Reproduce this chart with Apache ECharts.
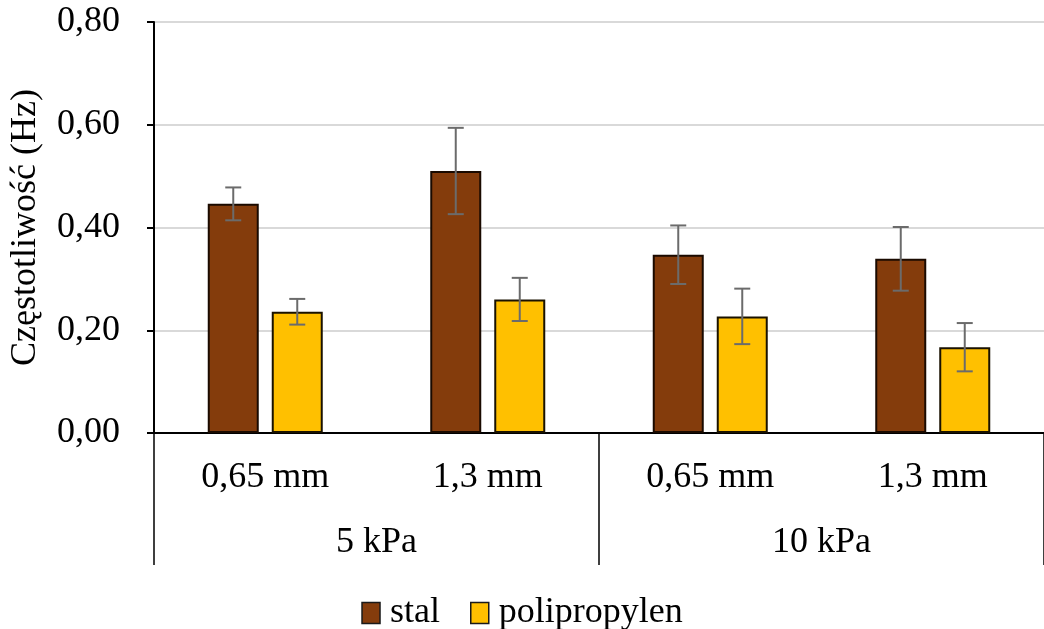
<!DOCTYPE html>
<html>
<head>
<meta charset="utf-8">
<script src="https://cdn.jsdelivr.net/npm/echarts@6/dist/echarts.min.js"></script>
<style>
  html, body { margin: 0; padding: 0; background: #fff; }
  #chart { width: 1044px; height: 629px; }
</style>
</head>
<body>
<div id="chart"></div>
<script>
// Frequency of oscillation: steel vs polypropylene, by orifice size and pressure
const sizeLabels = ['0,65 mm', '1,3 mm', '0,65 mm', '1,3 mm'];
const pressureLabels = ['5 kPa', '10 kPa'];
const seriesNames = ['stal', 'polipropylen'];
const stalValues = [0.446, 0.510, 0.347, 0.339];
const stalErrors = [0.032, 0.084, 0.057, 0.062];
const polyValues = [0.236, 0.260, 0.227, 0.167];
const polyErrors = [0.025, 0.042, 0.054, 0.047];
const yTicks = [0, 0.2, 0.4, 0.6, 0.8];

const FONT = '"Liberation Serif", "Times New Roman", serif';
const FS = 36;
const BAR_W = 51;
const BAR_GAP = 13;
const COLORS = ['#843C0C', '#FFC000'];

function errorSeries(values, errors, side) {
  return {
    type: 'custom',
    xAxisIndex: 0,
    yAxisIndex: 0,
    z: 5,
    silent: true,
    data: values.map((v, i) => [i, v - errors[i], v + errors[i]]),
    renderItem: function (params, api) {
      const shift = side * (BAR_W + BAR_GAP) / 2;
      const lo = api.coord([api.value(0), api.value(1)]);
      const hi = api.coord([api.value(0), api.value(2)]);
      const x = lo[0] + shift;
      const cap = 8;
      const style = { stroke: '#6b6b6b', lineWidth: 2 };
      return {
        type: 'group',
        children: [
          { type: 'line', shape: { x1: x, y1: lo[1], x2: x, y2: hi[1] }, style: style },
          { type: 'line', shape: { x1: x - cap, y1: hi[1], x2: x + cap, y2: hi[1] }, style: style },
          { type: 'line', shape: { x1: x - cap, y1: lo[1], x2: x + cap, y2: lo[1] }, style: style }
        ]
      };
    }
  };
}

const chart = echarts.init(document.getElementById('chart'));
chart.setOption({
  animation: false,
  backgroundColor: '#ffffff',
  textStyle: { fontFamily: FONT },
  grid: { left: 153, top: 22, width: 896, height: 411 },
  legend: {
    data: seriesNames,
    top: 590,
    left: 'center',
    itemWidth: 18,
    itemHeight: 21,
    itemGap: 30,
    icon: 'rect',
    itemStyle: { borderColor: '#1a1a1a', borderWidth: 1.5 },
    textStyle: { fontFamily: FONT, fontSize: FS, color: '#000', padding: [0, 0, 0, 5] }
  },
  xAxis: [
    {
      type: 'category',
      data: sizeLabels,
      position: 'bottom',
      axisLine: { show: true, lineStyle: { color: '#000', width: 2 } },
      axisTick: { show: false },
      axisLabel: { fontFamily: FONT, fontSize: FS, color: '#000', margin: 27 },
      splitLine: { show: false }
    },
    {
      type: 'category',
      data: pressureLabels,
      position: 'bottom',
      axisLine: { show: false },
      axisTick: { show: true, length: 132, lineStyle: { color: '#000', width: 1.5 } },
      axisLabel: { fontFamily: FONT, fontSize: FS, color: '#000', margin: 92 },
      splitLine: { show: false }
    }
  ],
  yAxis: {
    type: 'value',
    min: yTicks[0],
    max: yTicks[yTicks.length - 1],
    interval: 0.2,
    name: 'Częstotliwość (Hz)',
    nameLocation: 'middle',
    nameGap: 110,
    nameTextStyle: { fontFamily: FONT, fontSize: FS, color: '#000' },
    axisLine: { show: true, lineStyle: { color: '#000', width: 2 } },
    axisTick: { show: true, length: 7, lineStyle: { color: '#000', width: 2 } },
    axisLabel: {
      fontFamily: FONT, fontSize: FS, color: '#000', margin: 34,
      formatter: v => v.toFixed(2).replace('.', ',')
    },
    splitLine: { show: true, lineStyle: { color: '#d9d9d9', width: 2 } }
  },
  series: [
    {
      name: seriesNames[0],
      type: 'bar',
      data: stalValues,
      barWidth: BAR_W,
      barGap: (BAR_GAP / BAR_W * 100) + '%',
      itemStyle: { color: COLORS[0], borderColor: '#1a0a00', borderWidth: 2 }
    },
    {
      name: seriesNames[1],
      type: 'bar',
      data: polyValues,
      barWidth: BAR_W,
      itemStyle: { color: COLORS[1], borderColor: '#1a1200', borderWidth: 2 }
    },
    errorSeries(stalValues, stalErrors, -1),
    errorSeries(polyValues, polyErrors, 1)
  ]
});
</script>
</body>
</html>
